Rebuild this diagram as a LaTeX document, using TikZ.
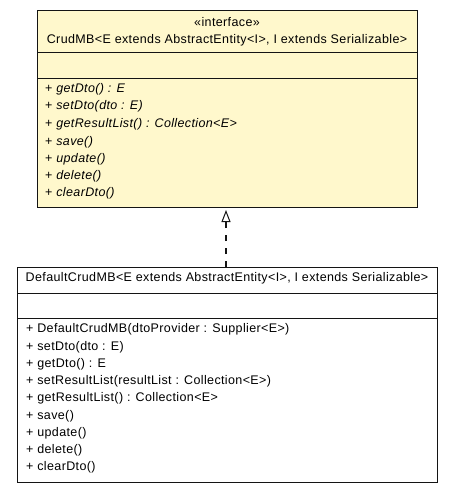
\documentclass[tikz,border=0pt]{standalone}
\usepackage{fontspec}
\setmainfont[LetterSpace=3]{Liberation Sans}
\usetikzlibrary{arrows.meta}
\definecolor{ifacefill}{RGB}{255,248,204}
\definecolor{umlline}{RGB}{20,20,20}
\begin{document}
\begin{tikzpicture}[x=1pt,y=-1pt,
  classbox/.style={draw=umlline, line width=1pt, inner sep=0pt, anchor=north west},
  sep/.style={draw=umlline, line width=1pt},
  member/.style={anchor=mid west, inner sep=0pt, font=\fontsize{12.5}{14}\selectfont},
  title/.style={anchor=mid, inner sep=0pt, font=\fontsize{12.5}{14}\selectfont},
  realizes/.style={draw=umlline, line width=1.3pt, dash pattern=on 6pt off 7pt,
    shorten >=2pt,
    -{Triangle[open, length=12pt, width=9pt, line width=1pt]}}]
  \useasboundingbox (0,0) rectangle (452,492);

  % interface CrudMB
  \node[classbox, fill=ifacefill, minimum width=380pt, minimum height=197pt] (iface) at (37,10) {};
  \draw[sep] (37,53) -- (417,53);
  \draw[sep] (37,79) -- (417,79);
  \node[title] (istereo) at (227,24) {«interface»};
  \node[title] (iname) at (227,41) {CrudMB<E extends AbstractEntity<I>, I extends Serializable>};
  \node[member] (i1) at (45,90)  {+ \textit{getDto() : E}};
  \node[member] (i2) at (45,107) {+ \textit{setDto(dto : E)}};
  \node[member] (i3) at (45,125) {+ \textit{getResultList() : Collection<E>}};
  \node[member] (i4) at (45,143) {+ \textit{save()}};
  \node[member] (i5) at (45,160) {+ \textit{update()}};
  \node[member] (i6) at (45,177) {+ \textit{delete()}};
  \node[member] (i7) at (45,194) {+ \textit{clearDto()}};

  % class DefaultCrudMB
  \node[classbox, fill=white, minimum width=420pt, minimum height=215pt] (impl) at (17,267) {};
  \draw[sep] (17,293) -- (437,293);
  \draw[sep] (17,318) -- (437,318);
  \node[title] (cname) at (227,279) {DefaultCrudMB<E extends AbstractEntity<I>, I extends Serializable>};
  \node[member] (c1) at (26,330) {+ DefaultCrudMB(dtoProvider : Supplier<E>)};
  \node[member] (c2) at (26,348) {+ setDto(dto : E)};
  \node[member] (c3) at (26,365) {+ getDto() : E};
  \node[member] (c4) at (26,382) {+ setResultList(resultList : Collection<E>)};
  \node[member] (c5) at (26,399) {+ getResultList() : Collection<E>};
  \node[member] (c6) at (26,417) {+ save()};
  \node[member] (c7) at (26,434) {+ update()};
  \node[member] (c8) at (26,451) {+ delete()};
  \node[member] (c9) at (26,468) {+ clearDto()};

  % realization
  \draw[realizes] ([xshift=-1.5pt]impl.north) -- ([xshift=-1.5pt]iface.south);
\end{tikzpicture}
\end{document}
